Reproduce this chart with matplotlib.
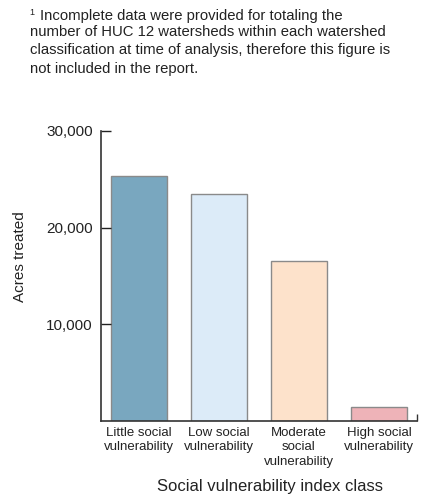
#!/usr/bin/env python3
"""Acres treated by social vulnerability index class (bar chart with footnote)."""

import matplotlib
matplotlib.use("Agg")
import matplotlib.pyplot as plt

plt.rcParams["font.family"] = ["Liberation Sans", "DejaVu Sans"]

# Data
categories = [
    "Little social\nvulnerability",
    "Low social\nvulnerability",
    "Moderate\nsocial\nvulnerability",
    "High social\nvulnerability",
]
acres = [25300, 23500, 16600, 1450]
y_ticks = [10000, 20000, 30000]
y_tick_labels = ["10,000", "20,000", "30,000"]
bar_colors = ["#79a7bf", "#dcebf8", "#fde2cb", "#eeb3b8"]

footnote_first = "Incomplete data were provided for totaling the"
footnote_rest = (
    "number of HUC 12 watersheds within each watershed\n"
    "classification at time of analysis, therefore this figure is\n"
    "not included in the report."
)

fig = plt.figure(figsize=(4.30, 4.96), dpi=100)
ax = fig.add_axes([101 / 430, 1 - 421 / 496, 316 / 430, 290 / 496])

x = list(range(len(categories)))
ax.bar(x, acres, width=0.71, color=bar_colors, edgecolor="#8a8a8a", linewidth=1.0)

ax.set_xlim(-0.475, 3.475)
ax.set_ylim(0, 30000)
ax.set_yticks(y_ticks)
ax.set_yticklabels(y_tick_labels, fontsize=11, color="#222222")
ax.tick_params(axis="y", direction="in", length=7, width=1.0, pad=6, colors="#222222")
ax.set_xticks(x)
ax.set_xticklabels(categories, fontsize=9.5, color="#222222", linespacing=1.3)
ax.tick_params(axis="x", length=0, pad=4)
# small upturned end of the x axis
ax.set_xticks([3.475], minor=True)
ax.tick_params(axis="x", which="minor", direction="in", length=5, width=1.0, colors="#333333")

for side in ["top", "right"]:
    ax.spines[side].set_visible(False)
for side in ["left", "bottom"]:
    ax.spines[side].set_color("#333333")
    ax.spines[side].set_linewidth(1.2)

fig.text(20 / 430, 1 - 257 / 496, "Acres treated", rotation=90, fontsize=11,
         ha="center", va="center", color="#222222")
fig.text(270 / 430, 1 - 487 / 496, "Social vulnerability index class", fontsize=12,
         ha="center", va="center", color="#222222")

# footnote
fig.text(29 / 430, 1 - 8 / 496, "1", fontsize=6.5, ha="left", va="top", color="#222222")
fig.text(40 / 430, 1 - 16 / 496, footnote_first, fontsize=10.75,
         ha="left", va="center", color="#222222")
fig.text(30 / 430, 1 - 25 / 496, footnote_rest, fontsize=10.75,
         ha="left", va="top", color="#222222", linespacing=1.4)

fig.savefig("out.png", dpi=100)
